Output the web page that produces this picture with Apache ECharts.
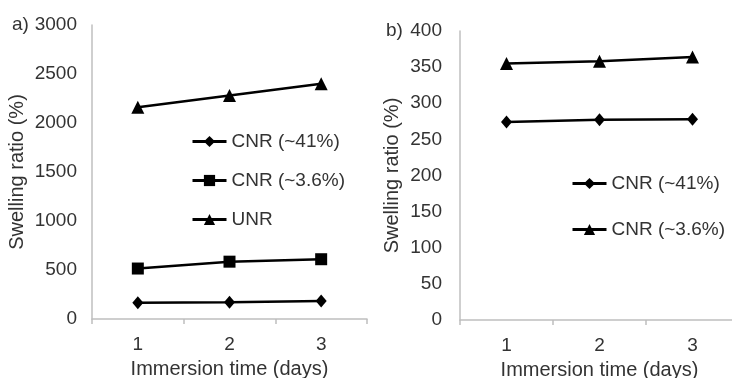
<!DOCTYPE html>
<html>
<head>
<meta charset="utf-8">
<script src="https://cdn.jsdelivr.net/npm/echarts@6/dist/echarts.min.js"></script>
<style>
  html, body { margin: 0; padding: 0; background: #fff; }
  #chart { width: 732px; height: 378px; }
</style>
</head>
<body>
<div id="chart"></div>
<script>
// immersion days
const days = ['1', '2', '3']

// panel a) swelling ratio (%)
const aCnr41 = [165, 172, 183]
const aCnr36 = [515, 585, 610]
const aUnr = [2160, 2280, 2400]

// panel b) swelling ratio (%)
const bCnr41 = [274, 277, 278]
const bCnr36 = [355, 358, 364]

const font = 'Liberation Sans, Arial, sans-serif'
const txt = '#333'

function xAx(gridIndex) {
    return {
        type: 'category',
        gridIndex,
        data: days,
        boundaryGap: true,
        name: 'Immersion time (days)',
        nameLocation: 'middle',
        nameGap: 40,
        nameTextStyle: { fontSize: 20, color: txt, fontFamily: font },
        axisLine: { lineStyle: { color: '#bfbfbf', width: 1.5 } },
        axisTick: { show: true, length: 5, lineStyle: { color: '#bfbfbf', width: 1.5 } },
        axisLabel: { fontSize: 19, color: txt, fontFamily: font, margin: 16 },
        splitLine: { show: false }
    }
}

function yAx(gridIndex, max, interval, margin, gap) {
    return {
        type: 'value',
        gridIndex,
        min: 0,
        max,
        interval,
        name: 'Swelling ratio (%)',
        nameLocation: 'middle',
        nameGap: gap,
        nameTextStyle: { fontSize: 20, color: txt, fontFamily: font },
        axisLine: { show: true, lineStyle: { color: '#bfbfbf', width: 1.5 } },
        axisTick: { show: false },
        axisLabel: { fontSize: 19, color: txt, fontFamily: font, margin, formatter: v => String(v) },
        splitLine: { show: false }
    }
}

function line(name, data, idx, symbol, size) {
    return {
        name,
        type: 'line',
        xAxisIndex: idx,
        yAxisIndex: idx,
        data,
        symbol,
        symbolSize: size,
        lineStyle: { color: '#000', width: 2.5 },
        itemStyle: { color: '#000' },
        animation: false
    }
}

const legendBase = {
    orient: 'vertical',
    itemWidth: 34,
    itemHeight: 14,
    itemStyle: { color: '#000' },
    lineStyle: { color: '#000', width: 3 },
    formatter: n => n.slice(2),
    textStyle: { fontSize: 19, color: txt, fontFamily: font }
}

const chart = echarts.init(document.getElementById('chart'))
chart.setOption({
    animation: false,
    grid: [
        { left: 92, right: 365, top: 25, bottom: 59, outerBoundsMode: 'none', containLabel: false },
        { left: 460, right: -7, top: 31, bottom: 58, outerBoundsMode: 'none', containLabel: false }
    ],
    xAxis: [xAx(0), xAx(1)],
    yAxis: [yAx(0, 3000, 500, 15, 65), yAx(1, 400, 50, 18, 58)],
    legend: [
        Object.assign({}, legendBase, {
            left: 186, top: 127, itemGap: 20,
            data: ['a|CNR (~41%)', 'a|CNR (~3.6%)', 'a|UNR']
        }),
        Object.assign({}, legendBase, {
            left: 566, top: 169, itemGap: 27,
            data: ['b|CNR (~41%)', 'b|CNR (~3.6%)']
        })
    ],
    graphic: [
        { type: 'text', left: 12, top: 15, style: { text: 'a)', fontSize: 19, fill: txt, fontFamily: font } },
        { type: 'text', left: 386, top: 21, style: { text: 'b)', fontSize: 19, fill: txt, fontFamily: font } }
    ],
    series: [
        line('a|CNR (~41%)', aCnr41, 0, 'diamond', [11, 13]),
        line('a|CNR (~3.6%)', aCnr36, 0, 'rect', 12),
        line('a|UNR', aUnr, 0, 'triangle', 13),
        line('b|CNR (~41%)', bCnr41, 1, 'diamond', [11, 13]),
        line('b|CNR (~3.6%)', bCnr36, 1, 'triangle', 13)
    ]
})
</script>
</body>
</html>
